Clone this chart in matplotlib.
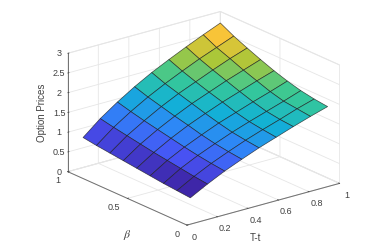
import numpy as np
import matplotlib
matplotlib.use('Agg')
import matplotlib.pyplot as plt
from matplotlib.colors import LinearSegmentedColormap

# --- data ---
T_t = [0.1, 0.2125, 0.325, 0.4375, 0.55, 0.6625, 0.775, 0.8875, 1.0]
beta = [0.1, 0.2125, 0.325, 0.4375, 0.55, 0.6625, 0.775, 0.8875, 1.0]

z_b01 = [0.45, 0.68, 0.89, 1.07, 1.24, 1.39, 1.54, 1.68, 1.81]
z_b02 = [0.48, 0.72, 0.93, 1.11, 1.28, 1.43, 1.57, 1.72, 1.85]
z_b03 = [0.51, 0.77, 0.98, 1.16, 1.33, 1.48, 1.62, 1.76, 1.91]
z_b04 = [0.55, 0.82, 1.04, 1.23, 1.41, 1.56, 1.71, 1.85, 2.00]
z_b05 = [0.59, 0.87, 1.11, 1.32, 1.50, 1.67, 1.82, 1.97, 2.11]
z_b06 = [0.63, 0.93, 1.18, 1.40, 1.60, 1.77, 1.94, 2.09, 2.24]
z_b07 = [0.67, 0.99, 1.25, 1.49, 1.70, 1.88, 2.06, 2.23, 2.38]
z_b08 = [0.71, 1.05, 1.33, 1.58, 1.80, 2.00, 2.19, 2.36, 2.53]
z_b09 = [0.76, 1.12, 1.42, 1.69, 1.93, 2.14, 2.34, 2.53, 2.71]

x_ticks = [0, 0.2, 0.4, 0.6, 0.8, 1]
x_labels = ['0', '0.2', '0.4', '0.6', '0.8', '1']
y_ticks = [0, 0.5, 1]
y_labels = ['0', '0.5', '1']
z_ticks = [0, 0.5, 1, 1.5, 2, 2.5, 3]
z_labels = ['0', '0.5', '1', '1.5', '2', '2.5', '3']

# MATLAB parula, eight samples
parula_colors = [(0.2422, 0.1504, 0.6603), (0.2810, 0.3228, 0.9579),
                 (0.1786, 0.5289, 0.9682), (0.0689, 0.6948, 0.8394),
                 (0.2161, 0.7843, 0.5923), (0.6720, 0.7793, 0.2227),
                 (0.9970, 0.7659, 0.2199), (0.9769, 0.9839, 0.0805)]
parula = LinearSegmentedColormap.from_list('parula', parula_colors)

plt.rcParams['font.family'] = ['Liberation Sans', 'DejaVu Sans']
plt.rcParams['mathtext.fontset'] = 'stix'
text_col = '#404040'

X, Y = np.meshgrid(T_t, beta)
Z = np.array([z_b01, z_b02, z_b03, z_b04, z_b05, z_b06, z_b07, z_b08, z_b09])

fig = plt.figure(figsize=(3.81, 2.53), dpi=100)
# square axes bigger than the figure, otherwise the surface gets clipped
side = 420
cx, cy = 198, 253 - 125
ax = fig.add_axes([(cx - side / 2) / 381, (cy - side / 2) / 253, side / 381, side / 253],
                  projection='3d', proj_type='ortho')
ax.view_init(elev=20.5, azim=-128)
ax.set_box_aspect((1, 1, 0.653), zoom=0.697)

# flat shading: each cell takes the colour of its first vertex
face = parula((Z - Z.min()) / (Z.max() - Z.min()))
ax.plot_surface(X, Y, Z, rstride=1, cstride=1, facecolors=face, shade=False,
                edgecolor=(0.1, 0.1, 0.1, 0.75), linewidth=0.5, antialiased=True)

ax.set_xlim(0, 1, view_margin=0)
ax.set_ylim(0, 1, view_margin=0)
ax.set_zlim(0, 3, view_margin=0)
ax.set_xticks(x_ticks, x_labels)
ax.set_yticks(y_ticks, y_labels)
ax.set_zticks(z_ticks, z_labels)

for axis in (ax.xaxis, ax.yaxis, ax.zaxis):
    axis.set_pane_color((1, 1, 1, 1))
    axis.pane.set_edgecolor('#e4e4e4')
    axis.pane.set_linewidth(0.7)
    axis.line.set_color('#707070')
    axis.line.set_linewidth(0.7)
    axis._axinfo['grid']['color'] = '#e6e6e6'
    axis._axinfo['grid']['linewidth'] = 0.6
    axis._axinfo['tick']['inward_factor'] = 0.0
    axis._axinfo['tick']['outward_factor'] = 0.1
    axis._axinfo['tick']['linewidth'] = {True: 0.5, False: 0.5}
    axis._axinfo['tick']['color'] = '#707070'

ax.tick_params(labelsize=6.5, colors=text_col)
ax.tick_params(axis='x', pad=2)
ax.tick_params(axis='y', pad=0)
ax.tick_params(axis='z', pad=-3)
for lab in ax.get_xticklabels():
    lab.set_va('center')
for lab in ax.get_yticklabels():
    lab.set_ha('right')
    lab.set_va('center')
for lab in ax.get_zticklabels():
    lab.set_va('center')

ax.zaxis.set_rotate_label(False)
ax.set_zlabel('Option Prices', fontsize=7, color=text_col, rotation=90, labelpad=-6)

# these two sit off the axis midpoints in the original, so place them by hand
fig.text(255 / 381, 1 - 238 / 253, 'T-t', fontsize=7, color=text_col, ha='center', va='center')
fig.text(127 / 381, 1 - 235 / 253, r'$\beta$', fontsize=8.5, color=text_col, ha='center', va='center')

fig.savefig('out.png', dpi=100)
